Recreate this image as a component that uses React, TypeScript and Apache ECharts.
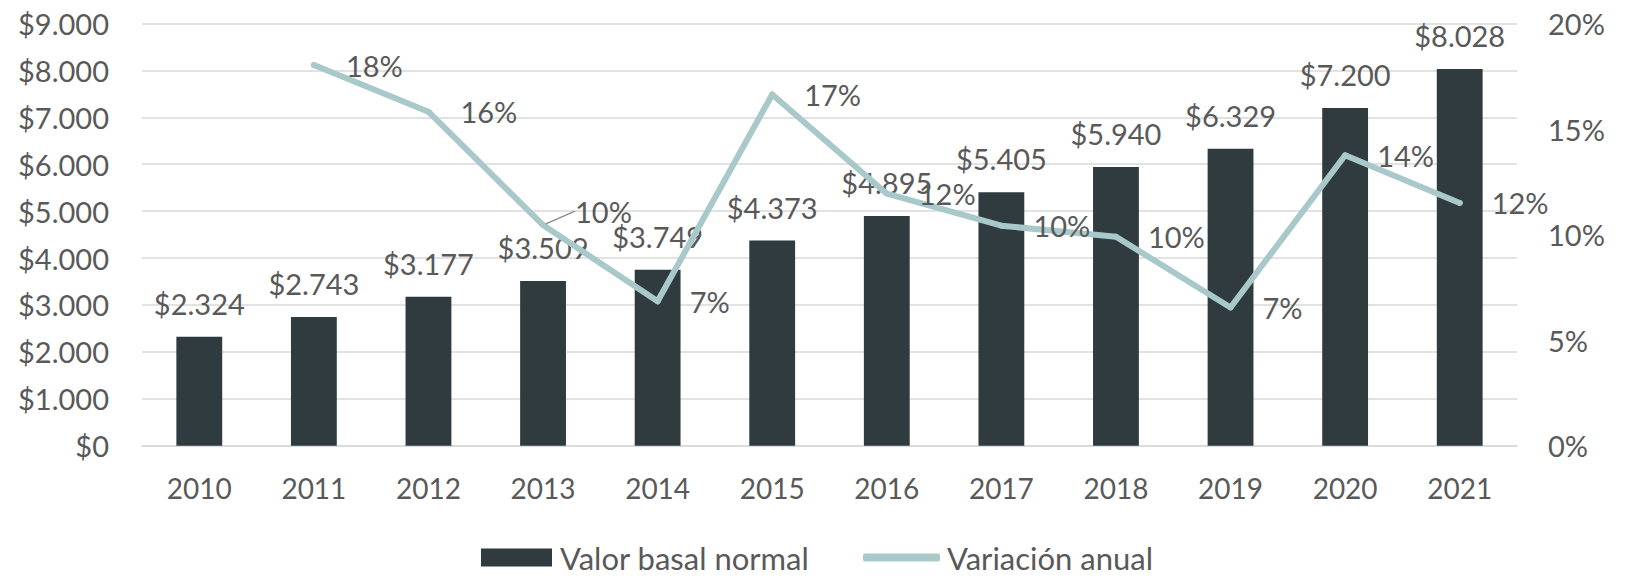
import React, { useEffect, useRef } from "react";
import * as echarts from "echarts";

const years = ["2010", "2011", "2012", "2013", "2014", "2015", "2016", "2017", "2018", "2019", "2020", "2021"];
const basalValues = [2324, 2743, 3177, 3509, 3749, 4373, 4895, 5405, 5940, 6329, 7200, 8028];
const annualVariation = [null, 18.03, 15.82, 10.45, 6.84, 16.64, 11.94, 10.42, 9.9, 6.55, 13.76, 11.5];

const BAR_NAME = "Valor basal normal";
const LINE_NAME = "Variación anual";

const TEXT = "#595959";
const BAR_COLOR = "#2f3b3e";
const LINE_COLOR = "#a9c8ca";
const GRID_COLOR = "#d9d9d9";
const FONT = "Lato";

const thousands = (v: number) => String(Math.round(v)).replace(/\B(?=(\d{3})+(?!\d))/g, ".");

export default function App() {
  const ref = useRef<HTMLDivElement>(null);
  useEffect(() => {
    document.body.style.margin = "0";
    if (!ref.current) return;
    const chart = echarts.init(ref.current, undefined, { renderer: "svg" });
    chart.setOption({
      animation: false,
      textStyle: { fontFamily: FONT, color: TEXT },
      grid: { left: 142, right: 117, top: 23.5, bottom: 133.3 },
      legend: [
        {
          data: [BAR_NAME],
          left: 476,
          top: 537,
          itemWidth: 71,
          itemHeight: 18,
          itemGap: 0,
          icon: "rect",
          textStyle: { fontFamily: FONT, fontSize: 31, color: TEXT, padding: [0, 0, 0, 3] },
        },
        {
          data: [LINE_NAME],
          left: 858,
          top: 537,
          itemWidth: 77,
          itemHeight: 8,
          itemGap: 0,
          icon: "roundRect",
          textStyle: { fontFamily: FONT, fontSize: 31, color: TEXT, padding: [0, 0, 0, 2] },
        },
      ],
      xAxis: {
        type: "category",
        data: years,
        axisTick: { show: false },
        axisLine: { lineStyle: { color: GRID_COLOR, width: 1.5 } },
        axisLabel: { color: TEXT, fontFamily: FONT, fontSize: 28, margin: 28 },
      },
      yAxis: [
        {
          type: "value",
          min: 0,
          max: 9000,
          interval: 1000,
          axisLine: { show: false },
          axisTick: { show: false },
          splitLine: { lineStyle: { color: GRID_COLOR, width: 1.5 } },
          axisLabel: {
            color: TEXT,
            fontFamily: FONT,
            fontSize: 29,
            margin: 33,
            formatter: (v: number) => "$" + thousands(v),
          },
        },
        {
          type: "value",
          min: 0,
          max: 20,
          interval: 5,
          axisLine: { show: false },
          axisTick: { show: false },
          splitLine: { show: false },
          axisLabel: {
            color: TEXT,
            fontFamily: FONT,
            fontSize: 29,
            margin: 31,
            formatter: "{value}%",
          },
        },
      ],
      series: [
        {
          name: BAR_NAME,
          type: "bar",
          data: basalValues,
          barWidth: "40%",
          itemStyle: { color: BAR_COLOR },
          label: {
            show: true,
            position: "top",
            distance: 19,
            color: TEXT,
            fontFamily: FONT,
            fontSize: 29,
            formatter: (p: any) => "$" + thousands(p.value),
          },
        },
        {
          name: LINE_NAME,
          type: "line",
          yAxisIndex: 1,
          data: annualVariation.map((v, i) =>
            i === 3
              ? { value: v, labelLine: { show: true, lineStyle: { color: "#8c8c8c", width: 1.5 } } }
              : v
          ),
          symbol: "circle",
          symbolSize: 6,
          itemStyle: { color: LINE_COLOR },
          lineStyle: { color: LINE_COLOR, width: 6, cap: "round", join: "round" },
          label: {
            show: true,
            position: "right",
            distance: 29,
            color: TEXT,
            fontFamily: FONT,
            fontSize: 29,
            formatter: (p: any) => Math.round(p.value) + "%",
          },
          labelLayout: (params: any) => (params.dataIndex === 3 ? { dy: -14 } : {}),
          z: 3,
        },
      ],
    });
    return () => chart.dispose();
  }, []);
  return <div ref={ref} style={{ width: 1634, height: 579 }} />;
}
